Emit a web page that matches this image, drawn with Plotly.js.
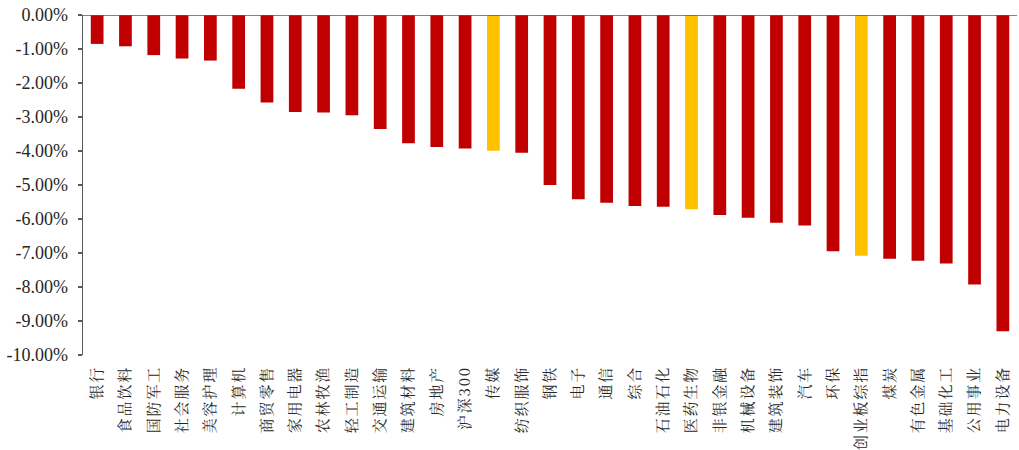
<!DOCTYPE html>
<html>
<head>
<meta charset="utf-8">
<script src="https://cdn.plot.ly/plotly-3.0.1.min.js"></script>
<style>
html,body{margin:0;padding:0;background:#fff;}
#chart{width:1019px;height:450px;}
#chart .xtick text{letter-spacing:1.8px;}
</style>
</head>
<body>
<div id="chart"></div>
<script>
const categories = ["银行","食品饮料","国防军工","社会服务","美容护理","计算机","商贸零售","家用电器","农林牧渔","轻工制造","交通运输","建筑材料","房地产","沪深300","传媒","纺织服饰","钢铁","电子","通信","综合","石油石化","医药生物","非银金融","机械设备","建筑装饰","汽车","环保","创业板综指","煤炭","有色金属","基础化工","公用事业","电力设备"];
const returns = [-0.85,-0.92,-1.18,-1.28,-1.34,-2.17,-2.57,-2.85,-2.87,-2.95,-3.35,-3.77,-3.88,-3.93,-3.99,-4.05,-5.00,-5.42,-5.52,-5.62,-5.64,-5.71,-5.88,-5.96,-6.11,-6.19,-6.95,-7.08,-7.17,-7.23,-7.31,-7.93,-9.30];
const highlighted = ["传媒","医药生物","创业板综指"];
const yTickVals = [0,-1,-2,-3,-4,-5,-6,-7,-8,-9,-10];
const yTickText = yTickVals.map(v => v.toFixed(2) + "%");

const colors = categories.map(c => highlighted.includes(c) ? "#FFC000" : "#C00000");

const trace = {
  type: "bar",
  x: categories,
  y: returns,
  marker: {color: colors, line: {width: 0}},
  hoverinfo: "x+y"
};

const layout = {
  width: 1019, height: 450,
  margin: {l: 83, r: 2, t: 15, b: 95},
  paper_bgcolor: "#fff", plot_bgcolor: "#fff",
  bargap: 0.55,
  showlegend: false,
  font: {family: "Liberation Serif", color: "#262626"},
  xaxis: {
    type: "category",
    tickangle: -90,
    tickfont: {size: 15, family: "Noto Serif CJK SC", color: "#262626"},
    showline: false, showgrid: false, zeroline: false,
    ticks: "outside", ticklen: 4, tickcolor: "rgba(0,0,0,0)"
  },
  yaxis: {
    range: [-10, 0],
    tickvals: yTickVals,
    ticktext: yTickText,
    tickfont: {size: 18, family: "Liberation Serif", color: "#262626"},
    showgrid: false, zeroline: false,
    showline: true, linecolor: "#595959", linewidth: 1.5,
    ticks: "outside", ticklen: 4, tickcolor: "#595959", tickwidth: 1.5,
    ticklabelstandoff: 6
  },
  shapes: [{
    type: "line", xref: "paper", yref: "y",
    x0: 0, x1: 1, y0: 0, y1: 0,
    line: {color: "#595959", width: 1.5}
  }]
};

Plotly.newPlot("chart", [trace], layout, {displayModeBar: false, staticPlot: true});
</script>
</body>
</html>
